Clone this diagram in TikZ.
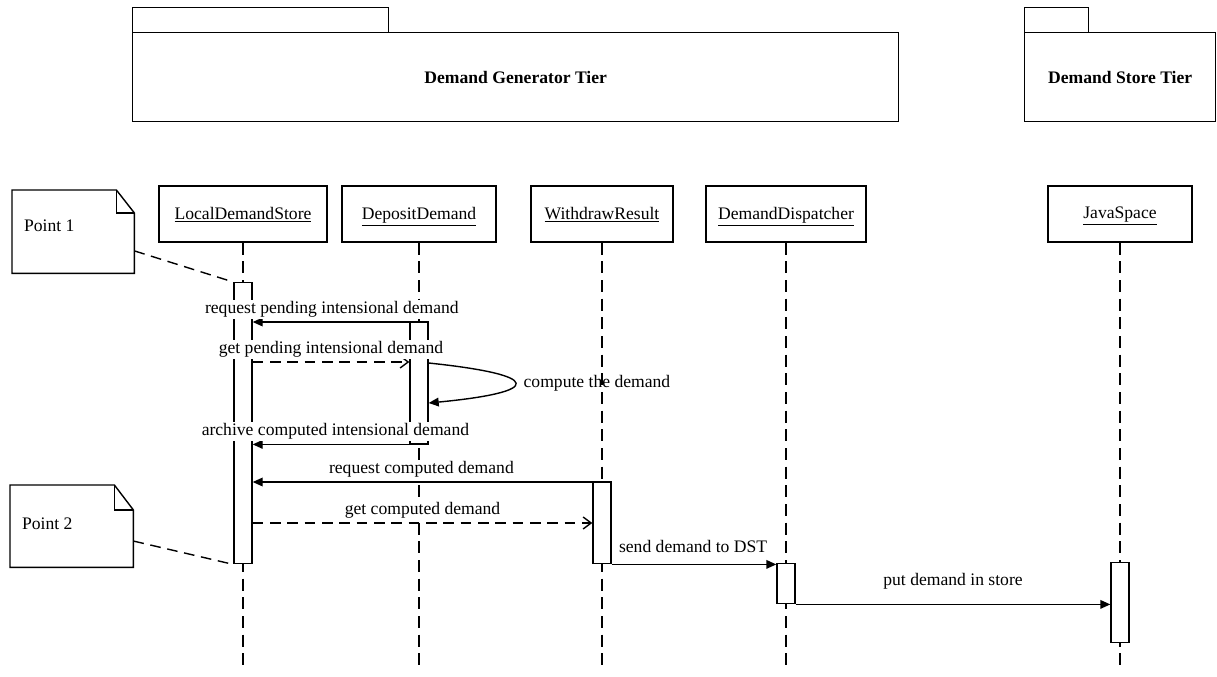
\documentclass[tikz,border=0pt]{standalone}
\usepackage{fontspec}
\setmainfont{Liberation Serif}
\usetikzlibrary{arrows.meta,calc}

\begin{document}
\begin{tikzpicture}[x=0.75pt,y=-0.75pt,line width=1.05pt,
  txt/.style={font=\fontsize{13.2}{15}\selectfont, inner sep=1pt},
  head/.style={draw, fill=white, minimum height=42pt, inner sep=0pt, txt, text depth=0.3ex},
  bar/.style={draw, fill=white, minimum width=13.5pt, inner sep=0pt, anchor=north},
  pkg/.style={draw, inner sep=0pt, anchor=north west, txt},
  note/.style={inner sep=0pt, anchor=north west},
  lifeline/.style={dash pattern=on 9pt off 5pt},
  sync/.style={-{Triangle[length=7.5pt,width=6.5pt]}},
  reply/.style={dash pattern=on 8pt off 5pt, -{Straight Barb[length=6pt,width=9pt]}},
  notelink/.style={dash pattern=on 8pt off 5pt},
  msg/.style={txt, fill=white, above=2pt}]

\useasboundingbox (0,0) rectangle (1217,676);

% tier packages
\node[pkg, minimum width=192pt, minimum height=18.75pt] (dgtTab) at (132,7) {};
\node[pkg, minimum width=574.5pt, minimum height=66.75pt] (dgt) at (132,32) {\bfseries Demand Generator Tier};
\node[pkg, minimum width=48pt, minimum height=18.75pt] (dstTab) at (1024,7) {};
\node[pkg, minimum width=143.25pt, minimum height=66.75pt] (dst) at (1024,32) {\bfseries Demand Store Tier};

% lifeline heads
\coordinate (bottom) at (0,672);
\node[head, minimum width=126pt]   (lds)   at (243,214)  {\underline{LocalDemandStore}};
\node[head, minimum width=115.5pt] (dd)    at (419,214)  {\underline{DepositDemand}};
\node[head, minimum width=106.5pt] (wr)    at (602,214)  {\underline{WithdrawResult}};
\node[head, minimum width=120pt]   (ddisp) at (786,214)  {\underline{DemandDispatcher}};
\node[head, minimum width=108pt]   (js)    at (1120,214) {\underline{JavaSpace}};

% dashed lifelines
\foreach \n in {lds,dd,wr,ddisp,js}
  \draw[lifeline] (\n.south) -- (\n.south |- bottom);

% activation bars
\node[bar, minimum height=210.75pt] (ldsbar)   at (243,282)  {};
\node[bar, minimum height=90.75pt]  (ddbar)    at (419,322)  {};
\node[bar, minimum height=60.75pt]  (wrbar)    at (602,482)  {};
\node[bar, minimum height=30pt]     (ddispbar) at (786,563)  {};
\node[bar, minimum height=60pt]     (jsbar)    at (1120,562) {};

% messages
\coordinate (y2) at (0,362);
\coordinate (y3a) at (0,363);
\coordinate (y3b) at (0,403);
\coordinate (y6) at (0,523);

\draw[sync] (ddbar.north east) -- node[msg, pos=0.55] {request pending intensional demand} (ldsbar.east |- ddbar.north);
\draw[reply] (ldsbar.east |- y2) -- node[msg] {get pending intensional demand} (ddbar.west |- y2);
\draw[sync] (ddbar.east |- y3a) .. controls +(115,12) and +(115,-11) .. (ddbar.east |- y3b)
  node[txt, pos=0.5, right=5pt] {compute the demand};
\draw[sync] (ddbar.south east) -- node[msg, pos=0.53] {archive computed intensional demand} (ldsbar.east |- ddbar.south);
\draw[sync] (wrbar.north east) -- node[msg, pos=0.53] {request computed demand} (ldsbar.east |- wrbar.north);
\draw[reply] (ldsbar.east |- y6) -- node[msg] {get computed demand} (wrbar.west |- y6);
\draw[sync] (wrbar.south east) -- node[txt, pos=0, anchor=south west, xshift=4pt, yshift=7pt] {send demand to DST} (ddispbar.west |- wrbar.south);
\draw[sync] (ddispbar.south east) -- node[msg, above=8pt] {put demand in store} (jsbar.west |- ddispbar.south);

% notes
\node[note, minimum width=90.75pt, minimum height=61.5pt] (note1) at (12,190) {};
\draw[fill=white] (note1.north west) -- ($(note1.north east)+(-18,0)$) -- ($(note1.north east)+(0,23)$)
  -- (note1.south east) -- (note1.south west) -- cycle;
\draw ($(note1.north east)+(-18,0)$) -- ++(0,23) -- ++(18,0);
\node[txt, anchor=west] (note1txt) at ($(note1.west)+(10,-6)$) {Point 1};

\node[note, minimum width=91.5pt, minimum height=60.75pt] (note2) at (10,485) {};
\draw[fill=white] (note2.north west) -- ($(note2.north east)+(-19,0)$) -- ($(note2.north east)+(0,25)$)
  -- (note2.south east) -- (note2.south west) -- cycle;
\draw ($(note2.north east)+(-19,0)$) -- ++(0,25) -- ++(19,0);
\node[txt, anchor=west] (note2txt) at ($(note2.west)+(10,-2)$) {Point 2};

\draw[notelink] ($(note1.north east)!0.73!(note1.south east)$) -- (ldsbar.north west);
\draw[notelink] ($(note2.north east)!0.68!(note2.south east)$) -- (ldsbar.south west);

\end{tikzpicture}
\end{document}
